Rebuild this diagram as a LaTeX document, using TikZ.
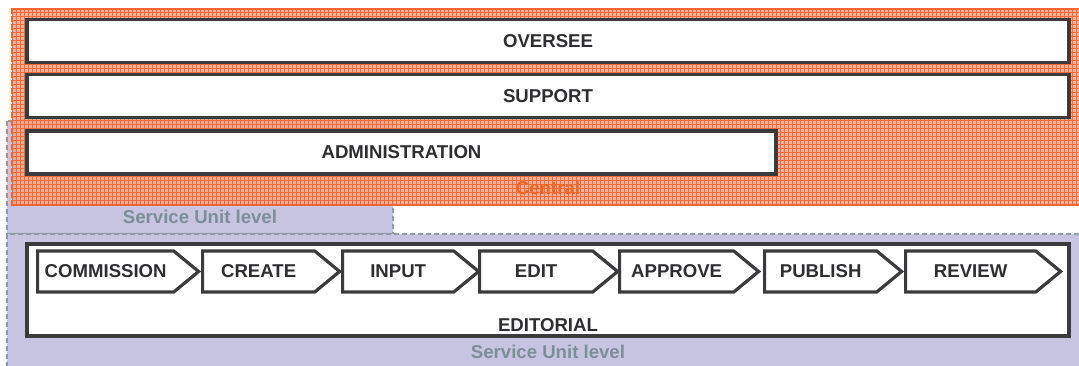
\documentclass[tikz,border=0pt]{standalone}
\usepackage{fontspec}
\setmainfont{Liberation Sans}
\usetikzlibrary{shapes.symbols,positioning}

\definecolor{boxline}{HTML}{3B3B3D}
\definecolor{boxtext}{HTML}{2E2E30}
\definecolor{unitfill}{HTML}{C6C4E0}
\definecolor{unitline}{HTML}{8C9BA6}
\definecolor{unittext}{HTML}{7D8D9A}
\definecolor{centfill}{HTML}{F8A585}
\definecolor{centline}{HTML}{F26430}
\definecolor{centtext}{HTML}{F26522}

\tikzset{
  lbl/.style={font=\fontsize{18.6}{22}\selectfont\bfseries, inner sep=0pt},
  stage/.style={lbl, draw=boxline, line width=3.2pt, fill=white, text=boxtext},
  chev/.style={stage, signal, signal to=east, signal pointer angle=79,
    minimum height=41pt, anchor=west},
  unitzone/.style={fill=unitfill, draw=unitline, line width=1.2pt, dash pattern=on 5pt off 3pt},
  centzone/.style={fill=centfill, fill opacity=0.85, draw=centline, line width=1.5pt, dash pattern=on 5pt off 3pt},
}

\begin{document}
\begin{tikzpicture}[x=1pt, y=-1pt]

    \useasboundingbox (0,0) rectangle (1079,366);

    % Zones
    \path[unitzone] (7,121) rectangle (393,234);
    \path[unitzone] (7,234) rectangle (1090,375);
    \path[centzone] (12,9) rectangle (1090,205);
    \begin{scope}
      \clip (12,9) rectangle (1090,205);
      \draw[centline, line width=0.7pt, opacity=0.9, step=4pt] (12,9) grid (1090,205);
    \end{scope}
    \draw[centline, line width=1.5pt, dash pattern=on 5pt off 3pt] (12,205) -- (12,9) -- (1090,9);
    \draw[centline, line width=1.5pt, dash pattern=on 5pt off 3pt] (12,205) -- (1090,205);

    % Zone labels
    \node[lbl, text=unittext]  (unittop) at (200,217) {Service Unit level};
    \node[lbl, text=centtext]  (central) at (548,188) {Central};
    \node[lbl, text=unittext]  (unitbot) at (548,352) {Service Unit level};

    % Central boxes
    \node[stage, minimum width=1042pt, minimum height=43pt] (oversee) at (548,41) {OVERSEE};
    \node[stage, minimum width=1042pt, minimum height=43pt] (support) at (548,96) {SUPPORT};
    \node[stage, minimum width=749pt, minimum height=43pt]  (admin) at (401.5,152.5) {ADMINISTRATION};

    % Editorial box and its steps
    \node[stage, minimum width=1042pt, minimum height=92pt] (editorial) at (548,290) {};
    \node[lbl, text=boxtext, above=6pt of editorial.south] (editlbl) {EDITORIAL};

    \node[chev, minimum width=161pt] (commission) at (36,271.5) {COMMISSION};
    \node[chev, minimum width=137pt] (create)     at (201,271.5) {CREATE};
    \node[chev, minimum width=136pt] (input)      at (341,271.5) {INPUT};
    \node[chev, minimum width=138pt] (edit)       at (478,271.5) {EDIT};
    \node[chev, minimum width=139pt] (approve)    at (618,271.5) {APPROVE};
    \node[chev, minimum width=137pt] (publish)    at (763,271.5) {PUBLISH};
    \node[chev, minimum width=155pt] (review)     at (904,271.5) {REVIEW};

\end{tikzpicture}
\end{document}
